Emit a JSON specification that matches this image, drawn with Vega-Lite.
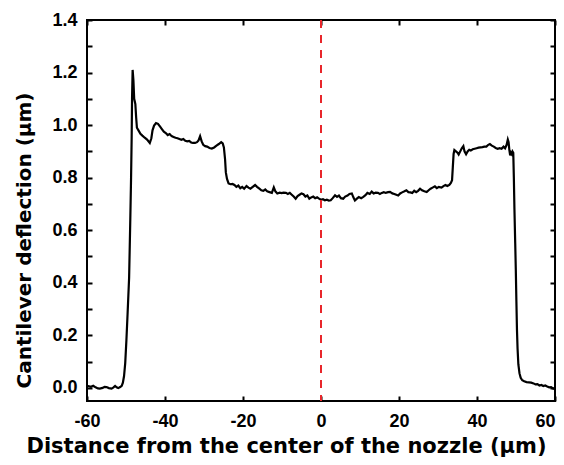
{
  "$schema": "https://vega.github.io/schema/vega-lite/v6.json",
  "width": 468,
  "height": 381,
  "autosize": "none",
  "padding": {"left": 87, "top": 20, "right": 9, "bottom": 64},
  "background": "white",
  "data": {"values": [
    {"x": -60, "y": 0.008}, {"x": -59.5, "y": 0.006}, {"x": -59, "y": 0.004}, {"x": -58.4, "y": 0.008},
    {"x": -57.8, "y": 0.002}, {"x": -57.2, "y": -0.002}, {"x": -56.7, "y": -0.003}, {"x": -56, "y": 0.0},
    {"x": -55.5, "y": 0.004}, {"x": -55, "y": 0.003}, {"x": -54.4, "y": -0.001}, {"x": -53.7, "y": -0.003},
    {"x": -53.2, "y": 0.002}, {"x": -52.8, "y": 0.007}, {"x": -52.4, "y": 0.002}, {"x": -52, "y": -0.001},
    {"x": -51.5, "y": 0.003}, {"x": -51.1, "y": 0.008}, {"x": -50.8, "y": 0.02}, {"x": -50.5, "y": 0.045},
    {"x": -50.2, "y": 0.094}, {"x": -49.9, "y": 0.18}, {"x": -49.6, "y": 0.28}, {"x": -49.2, "y": 0.42},
    {"x": -48.9, "y": 0.64}, {"x": -48.7, "y": 0.8}, {"x": -48.55, "y": 0.95}, {"x": -48.45, "y": 1.1},
    {"x": -48.3, "y": 1.21}, {"x": -48.1, "y": 1.17}, {"x": -47.9, "y": 1.1}, {"x": -47.6, "y": 1.08},
    {"x": -47.4, "y": 1.03}, {"x": -47.2, "y": 0.99}, {"x": -46.8, "y": 0.98}, {"x": -46.3, "y": 0.967},
    {"x": -45.8, "y": 0.96}, {"x": -45.2, "y": 0.952}, {"x": -44.6, "y": 0.945}, {"x": -43.9, "y": 0.932},
    {"x": -43.5, "y": 0.95}, {"x": -43.2, "y": 0.98}, {"x": -42.8, "y": 0.998}, {"x": -42.3, "y": 1.008},
    {"x": -41.8, "y": 1.005}, {"x": -41.3, "y": 0.995}, {"x": -40.8, "y": 0.985}, {"x": -40.3, "y": 0.975},
    {"x": -39.8, "y": 0.97}, {"x": -39.3, "y": 0.962}, {"x": -38.8, "y": 0.966}, {"x": -38.3, "y": 0.958},
    {"x": -37.8, "y": 0.955}, {"x": -37.3, "y": 0.952}, {"x": -36.8, "y": 0.95}, {"x": -36.3, "y": 0.947},
    {"x": -35.8, "y": 0.944}, {"x": -35.3, "y": 0.947}, {"x": -34.8, "y": 0.94}, {"x": -34.3, "y": 0.938},
    {"x": -33.8, "y": 0.94}, {"x": -33.3, "y": 0.934}, {"x": -32.8, "y": 0.932}, {"x": -32.3, "y": 0.932},
    {"x": -31.8, "y": 0.935}, {"x": -31.4, "y": 0.942}, {"x": -31.0, "y": 0.958}, {"x": -30.6, "y": 0.938},
    {"x": -30.2, "y": 0.925}, {"x": -29.7, "y": 0.92}, {"x": -29.2, "y": 0.918}, {"x": -28.6, "y": 0.913},
    {"x": -28.0, "y": 0.911}, {"x": -27.4, "y": 0.915}, {"x": -26.8, "y": 0.922}, {"x": -26.2, "y": 0.928},
    {"x": -25.6, "y": 0.935}, {"x": -25.2, "y": 0.93}, {"x": -24.9, "y": 0.915}, {"x": -24.6, "y": 0.87},
    {"x": -24.4, "y": 0.82}, {"x": -24.1, "y": 0.795}, {"x": -23.7, "y": 0.778}, {"x": -23.2, "y": 0.775},
    {"x": -22.7, "y": 0.776}, {"x": -22.2, "y": 0.772}, {"x": -21.7, "y": 0.765}, {"x": -21.2, "y": 0.77},
    {"x": -20.7, "y": 0.76}, {"x": -20.2, "y": 0.765}, {"x": -19.7, "y": 0.758}, {"x": -19.1, "y": 0.768},
    {"x": -18.6, "y": 0.762}, {"x": -18.1, "y": 0.758}, {"x": -17.5, "y": 0.765}, {"x": -16.9, "y": 0.772},
    {"x": -16.4, "y": 0.765}, {"x": -15.8, "y": 0.758}, {"x": -15.3, "y": 0.752}, {"x": -14.8, "y": 0.75},
    {"x": -14.3, "y": 0.755}, {"x": -13.8, "y": 0.748}, {"x": -13.2, "y": 0.745}, {"x": -12.6, "y": 0.742},
    {"x": -12.1, "y": 0.763}, {"x": -11.7, "y": 0.748}, {"x": -11.2, "y": 0.74}, {"x": -10.6, "y": 0.743},
    {"x": -10.1, "y": 0.741}, {"x": -9.6, "y": 0.743}, {"x": -9.0, "y": 0.742}, {"x": -8.5, "y": 0.738},
    {"x": -8.0, "y": 0.742}, {"x": -7.5, "y": 0.735}, {"x": -7.0, "y": 0.728}, {"x": -6.5, "y": 0.72},
    {"x": -6.0, "y": 0.73}, {"x": -5.5, "y": 0.735}, {"x": -5.0, "y": 0.74}, {"x": -4.5, "y": 0.737},
    {"x": -4.0, "y": 0.728}, {"x": -3.5, "y": 0.732}, {"x": -3.0, "y": 0.72}, {"x": -2.5, "y": 0.725},
    {"x": -2.0, "y": 0.728}, {"x": -1.5, "y": 0.722}, {"x": -1.0, "y": 0.725}, {"x": -0.5, "y": 0.72},
    {"x": 0, "y": 0.716}, {"x": 0.5, "y": 0.718}, {"x": 1.0, "y": 0.714}, {"x": 1.5, "y": 0.716},
    {"x": 2.0, "y": 0.713}, {"x": 2.5, "y": 0.714}, {"x": 3.0, "y": 0.722}, {"x": 3.6, "y": 0.733},
    {"x": 4.1, "y": 0.727}, {"x": 4.6, "y": 0.732}, {"x": 5.1, "y": 0.722}, {"x": 5.7, "y": 0.72},
    {"x": 6.2, "y": 0.728}, {"x": 6.8, "y": 0.732}, {"x": 7.3, "y": 0.738}, {"x": 7.9, "y": 0.74},
    {"x": 8.3, "y": 0.725}, {"x": 8.7, "y": 0.713}, {"x": 9.2, "y": 0.72}, {"x": 9.7, "y": 0.726},
    {"x": 10.3, "y": 0.722}, {"x": 10.85, "y": 0.727}, {"x": 11.4, "y": 0.733}, {"x": 11.9, "y": 0.742},
    {"x": 12.5, "y": 0.738}, {"x": 13.0, "y": 0.747}, {"x": 13.5, "y": 0.74}, {"x": 14.0, "y": 0.743},
    {"x": 14.6, "y": 0.742}, {"x": 15.1, "y": 0.738}, {"x": 15.6, "y": 0.742}, {"x": 16.1, "y": 0.745},
    {"x": 16.6, "y": 0.742}, {"x": 17.2, "y": 0.745}, {"x": 17.7, "y": 0.746}, {"x": 18.3, "y": 0.74},
    {"x": 18.8, "y": 0.738}, {"x": 19.3, "y": 0.735}, {"x": 19.8, "y": 0.732}, {"x": 20.3, "y": 0.74},
    {"x": 20.8, "y": 0.744}, {"x": 21.4, "y": 0.748}, {"x": 21.9, "y": 0.752}, {"x": 22.4, "y": 0.745},
    {"x": 22.9, "y": 0.744}, {"x": 23.4, "y": 0.742}, {"x": 23.9, "y": 0.75}, {"x": 24.4, "y": 0.745},
    {"x": 24.9, "y": 0.75}, {"x": 25.4, "y": 0.758}, {"x": 25.9, "y": 0.752}, {"x": 26.5, "y": 0.748},
    {"x": 27.1, "y": 0.745}, {"x": 27.6, "y": 0.752}, {"x": 28.1, "y": 0.758}, {"x": 28.6, "y": 0.762},
    {"x": 29.2, "y": 0.767}, {"x": 29.7, "y": 0.76}, {"x": 30.2, "y": 0.765}, {"x": 30.9, "y": 0.762},
    {"x": 31.4, "y": 0.768}, {"x": 31.9, "y": 0.772}, {"x": 32.4, "y": 0.768}, {"x": 32.9, "y": 0.772},
    {"x": 33.3, "y": 0.78}, {"x": 33.6, "y": 0.79}, {"x": 33.8, "y": 0.84}, {"x": 34.0, "y": 0.89},
    {"x": 34.2, "y": 0.905}, {"x": 34.6, "y": 0.9}, {"x": 35.0, "y": 0.895}, {"x": 35.3, "y": 0.888},
    {"x": 35.7, "y": 0.9}, {"x": 36.1, "y": 0.912}, {"x": 36.5, "y": 0.92}, {"x": 36.8, "y": 0.9},
    {"x": 37.2, "y": 0.889}, {"x": 37.6, "y": 0.9}, {"x": 38.0, "y": 0.906}, {"x": 38.4, "y": 0.903},
    {"x": 38.9, "y": 0.908}, {"x": 39.4, "y": 0.91}, {"x": 39.9, "y": 0.912}, {"x": 40.4, "y": 0.914},
    {"x": 40.9, "y": 0.915}, {"x": 41.4, "y": 0.916}, {"x": 41.9, "y": 0.918}, {"x": 42.4, "y": 0.918},
    {"x": 42.9, "y": 0.925}, {"x": 43.3, "y": 0.928}, {"x": 43.8, "y": 0.922}, {"x": 44.3, "y": 0.918},
    {"x": 44.8, "y": 0.913}, {"x": 45.3, "y": 0.91}, {"x": 45.8, "y": 0.912}, {"x": 46.3, "y": 0.91},
    {"x": 46.8, "y": 0.918}, {"x": 47.2, "y": 0.912}, {"x": 47.6, "y": 0.925}, {"x": 47.9, "y": 0.945},
    {"x": 48.1, "y": 0.935}, {"x": 48.3, "y": 0.905}, {"x": 48.5, "y": 0.885}, {"x": 48.7, "y": 0.895},
    {"x": 48.9, "y": 0.89}, {"x": 49.1, "y": 0.9}, {"x": 49.3, "y": 0.895}, {"x": 49.45, "y": 0.8},
    {"x": 49.6, "y": 0.68}, {"x": 49.8, "y": 0.55}, {"x": 49.95, "y": 0.45}, {"x": 50.1, "y": 0.33},
    {"x": 50.25, "y": 0.22}, {"x": 50.4, "y": 0.15}, {"x": 50.6, "y": 0.09}, {"x": 50.9, "y": 0.055},
    {"x": 51.2, "y": 0.038}, {"x": 51.6, "y": 0.029}, {"x": 52.1, "y": 0.025}, {"x": 52.7, "y": 0.022},
    {"x": 53.3, "y": 0.021}, {"x": 53.9, "y": 0.02}, {"x": 54.5, "y": 0.017}, {"x": 55.0, "y": 0.013},
    {"x": 55.5, "y": 0.014}, {"x": 56.0, "y": 0.009}, {"x": 56.5, "y": 0.011}, {"x": 57.0, "y": 0.007},
    {"x": 57.5, "y": 0.009}, {"x": 58.0, "y": 0.005}, {"x": 58.5, "y": 0.002}, {"x": 59.0, "y": 0.003},
    {"x": 59.5, "y": -0.002}, {"x": 60.0, "y": -0.004}
  ]},
  "layer": [
    {
      "mark": {"type": "line", "color": "black", "strokeWidth": 2.2},
      "encoding": {
        "x": {"field": "x", "type": "quantitative",
          "scale": {"domain": [-60, 60], "nice": false, "zero": false},
          "axis": {"orient": "bottom",
            "values": [-60, -50, -40, -30, -20, -10, 0, 10, 20, 30, 40, 50, 60],
            "labelExpr": "datum.value % 20 == 0 ? '' + datum.value : ''",
            "labelAlign": {"condition": {"test": "datum.value == 60", "value": "right"}, "value": "center"},
            "labelDx": {"condition": {"test": "datum.value == 60", "value": 3}, "value": 0},
            "ticks": false, "labelPadding": 11, "labelFlush": false, "labelOverlap": false,
            "grid": true, "gridColor": "#000000", "gridWidth": 2, "gridOpacity": 1,
            "gridDash": [5, 371, 5, 1000],
            "title": "Distance from the center of the nozzle (μm)", "titleFontSize": 21,
            "titleX": 199, "titleY": 45, "titleBaseline": "middle", "titleAlign": "center"}},
        "y": {"field": "y", "type": "quantitative",
          "scale": {"domain": [-0.05, 1.4], "nice": false, "zero": false},
          "axis": {"orient": "left",
            "values": [0, 0.1, 0.2, 0.3, 0.4, 0.5, 0.6, 0.7, 0.8, 0.9, 1.0, 1.1, 1.2, 1.3, 1.4],
            "labelExpr": "round(datum.value * 10) % 2 == 0 ? format(datum.value, '.1f') : ''",
            "ticks": false, "labelPadding": 10, "labelFlush": false, "labelOverlap": false,
            "grid": true, "gridColor": "#000000", "gridWidth": 2, "gridOpacity": 1,
            "gridDash": [5, 458, 5, 1000],
            "title": "Cantilever deflection (μm)",
            "titleX": -63, "titleY": 220, "titleBaseline": "middle", "titleAlign": "center", "titleAngle": -90}}
      }
    },
    {
      "data": {"values": [{"x": 0}]},
      "mark": {"type": "rule", "color": "#e8262b", "strokeWidth": 2, "strokeDash": [8, 7]},
      "encoding": {
        "x": {"field": "x", "type": "quantitative"}
      }
    }
  ],
  "config": {
    "view": {"stroke": "black", "strokeWidth": 2},
    "axis": {
      "domain": false,
      "labelFont": "Liberation Sans", "labelFontWeight": "bold", "labelFontSize": 18, "labelColor": "black",
      "titleFont": "DejaVu Sans", "titleFontWeight": "bold", "titleFontSize": 20, "titleColor": "black"
    }
  }
}
